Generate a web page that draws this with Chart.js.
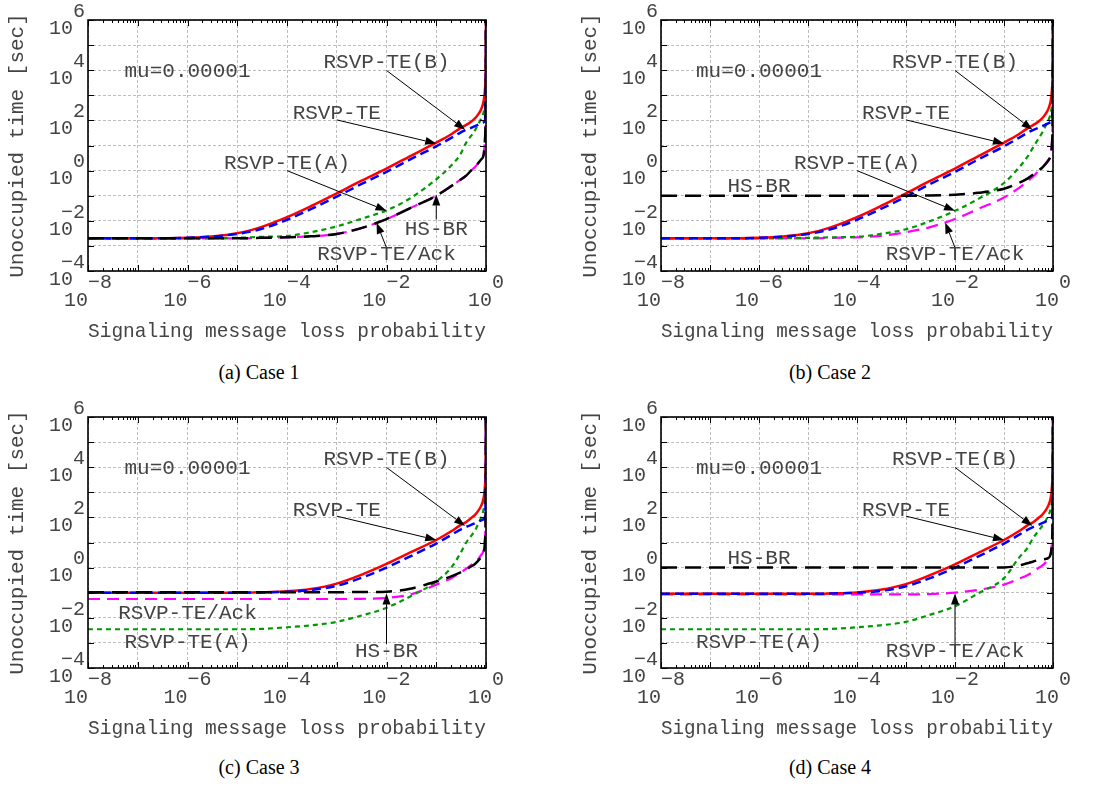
<!DOCTYPE html>
<html>
<head>
<meta charset="utf-8">
<script src="https://cdn.jsdelivr.net/npm/chart.js@4.4.1/dist/chart.umd.min.js"></script>
<style>
  html, body { margin: 0; padding: 0; background: #fff; }
  #page { position: relative; width: 1107px; height: 787px; overflow: hidden; }
  .panel { position: absolute; }
  .cap { position: absolute; font-family: "Liberation Serif", "Times New Roman", serif; font-size: 20px; color: #000; transform: translateX(-50%); white-space: nowrap; }
</style>
</head>
<body>
<div id="page">
  <div class="panel" style="left:0;top:0;width:560px;height:350px"><canvas id="caseA"></canvas></div>
  <div class="panel" style="left:573px;top:0;width:534px;height:350px"><canvas id="caseB"></canvas></div>
  <div class="panel" style="left:0;top:397px;width:560px;height:350px"><canvas id="caseC"></canvas></div>
  <div class="panel" style="left:573px;top:397px;width:534px;height:350px"><canvas id="caseD"></canvas></div>
  <div class="cap" style="left:259px;top:361px">(a) Case 1</div>
  <div class="cap" style="left:830px;top:361px">(b) Case 2</div>
  <div class="cap" style="left:259px;top:756px">(c) Case 3</div>
  <div class="cap" style="left:830px;top:756px">(d) Case 4</div>
</div>
<script>
// signaling message loss probability (x)
const P = [1e-8, 1e-7, 1e-6, 1e-5, 3e-5, 1e-4, 3e-4, 1e-3, 3e-3, 1e-2, 3e-2, 0.1, 0.2, 0.3, 0.4, 0.5, 0.6, 0.7, 0.8, 0.9, 0.95, 0.99, 0.999];
const xTickExps = [-8, -7, -6, -5, -4, -3, -2, -1, 0];
const yTickExps = [-4, -3, -2, -1, 0, 1, 2, 3, 4, 5, 6];

// unoccupied time [sec], case 1
const aRsvpB = [0.002, 0.002, 0.0021, 0.0032, 0.0056, 0.014, 0.038, 0.124, 0.38, 1.2, 3.8, 13, 28, 48, 66, 89, 120, 178, 280, 630, 1600, 32000, 3e6];
const aRsvp = [0.002, 0.002, 0.0021, 0.003, 0.0047, 0.011, 0.029, 0.092, 0.28, 0.89, 2.8, 9.3, 20, 32, 42, 50, 59, 68, 76, 85, 100, 3200, 3e6];
const aRsvpA = [0.002, 0.002, 0.002, 0.0021, 0.0023, 0.0025, 0.0035, 0.006, 0.0117, 0.026, 0.079, 0.45, 1.6, 4.2, 13, 24, 40, 70, 120, 224, 500, 10000, 3e6];
const aHsbr = [0.002, 0.002, 0.002, 0.002, 0.0021, 0.0022, 0.0024, 0.003, 0.005, 0.0117, 0.032, 0.1, 0.24, 0.42, 0.63, 1.0, 1.4, 2.0, 2.8, 4.5, 16, 1000, 3e6];
const aAck = [0.002, 0.002, 0.002, 0.002, 0.0021, 0.0022, 0.0024, 0.003, 0.005, 0.0117, 0.032, 0.1, 0.24, 0.42, 0.63, 1.0, 1.4, 2.0, 2.8, 4.5, 16, 1000, 3e6];

// case 2
const bRsvpB = [0.002, 0.002, 0.0021, 0.0032, 0.0056, 0.014, 0.038, 0.124, 0.38, 1.2, 3.8, 13, 28, 48, 66, 89, 120, 178, 280, 630, 1600, 32000, 3e6];
const bRsvp = [0.002, 0.002, 0.0021, 0.003, 0.0047, 0.011, 0.029, 0.092, 0.28, 0.89, 2.8, 9.3, 20, 32, 42, 50, 59, 68, 76, 85, 100, 3200, 3e6];
const bRsvpA = [0.002, 0.002, 0.002, 0.0021, 0.0022, 0.0023, 0.003, 0.0046, 0.0095, 0.025, 0.075, 0.32, 1.3, 3.5, 9, 18, 32, 58, 100, 200, 450, 10000, 3e6];
const bHsbr = [0.1, 0.1, 0.1, 0.1, 0.1, 0.1, 0.1, 0.1, 0.102, 0.11, 0.13, 0.19, 0.32, 0.48, 0.71, 1.0, 1.3, 1.8, 2.5, 4, 10, 1000, 3e6];
const bAck = [0.002, 0.002, 0.002, 0.002, 0.0021, 0.0022, 0.0025, 0.0035, 0.0055, 0.0117, 0.03, 0.085, 0.2, 0.38, 0.6, 0.95, 1.35, 1.9, 2.7, 4.3, 15, 1000, 3e6];

// case 3
const cRsvpB = [0.1, 0.1, 0.1, 0.1, 0.104, 0.113, 0.14, 0.23, 0.5, 1.4, 4.0, 12.6, 28, 48, 66, 93, 126, 186, 295, 630, 1600, 32000, 3e6];
const cRsvp = [0.1, 0.1, 0.1, 0.1, 0.103, 0.109, 0.127, 0.19, 0.38, 1.0, 2.8, 9.1, 20, 32, 42, 50, 59, 68, 76, 85, 100, 3200, 3e6];
const cRsvpA = [0.0035, 0.0035, 0.0035, 0.0035, 0.0036, 0.0042, 0.005, 0.0069, 0.012, 0.025, 0.071, 0.28, 1.0, 3.5, 10, 18, 30, 56, 100, 224, 500, 10000, 3e6];
const cHsbr = [0.105, 0.105, 0.105, 0.105, 0.105, 0.105, 0.105, 0.105, 0.106, 0.11, 0.145, 0.28, 0.45, 0.63, 0.85, 1.1, 1.4, 1.9, 2.6, 4, 10, 1000, 3e6];
const cAck = [0.056, 0.056, 0.056, 0.056, 0.056, 0.056, 0.056, 0.056, 0.057, 0.062, 0.085, 0.21, 0.38, 0.6, 0.9, 1.26, 1.66, 2.2, 3.2, 5, 12.6, 1000, 3e6];

// case 4
const dRsvpB = [0.09, 0.09, 0.09, 0.09, 0.094, 0.103, 0.13, 0.22, 0.49, 1.35, 3.9, 12.6, 28, 48, 66, 93, 126, 186, 295, 630, 1600, 32000, 3e6];
const dRsvp = [0.09, 0.09, 0.09, 0.09, 0.093, 0.099, 0.117, 0.18, 0.37, 0.99, 2.8, 9.1, 20, 32, 42, 50, 59, 68, 76, 85, 100, 3200, 3e6];
const dRsvpA = [0.0035, 0.0035, 0.0035, 0.0035, 0.0036, 0.0042, 0.005, 0.0069, 0.013, 0.029, 0.095, 0.38, 2.4, 6, 16, 28, 45, 70, 120, 224, 500, 10000, 3e6];
const dHsbr = [1.0, 1.0, 1.0, 1.0, 1.0, 1.0, 1.0, 1.0, 1.0, 1.0, 1.0, 1.02, 1.2, 1.5, 1.75, 2.0, 2.1, 2.2, 2.4, 3.5, 10, 1000, 3e6];
const dAck = [0.085, 0.085, 0.085, 0.085, 0.085, 0.085, 0.085, 0.085, 0.088, 0.1, 0.13, 0.21, 0.36, 0.5, 0.7, 0.95, 1.2, 1.6, 2.3, 4, 10, 1000, 3e6];

// text notes [text, log10 p, log10 T] and arrows [from lp, lt, to lp, lt]
const aNotes = [["mu=0.00001", -6.0, 3.96], ["RSVP-TE(B)", -2.0, 4.32], ["RSVP-TE", -3.0, 2.26], ["RSVP-TE(A)", -4.0, 0.29], ["HS-BR", -1.0, -2.33], ["RSVP-TE/Ack", -2.0, -3.35]];
const aArrows = [[-2.0, 3.99, -0.42, 1.63], [-3.0, 2.02, -1.0, 1.08], [-4.0, 0.0, -2.0, -1.6], [-1.0, -1.95, -1.0, -0.95], [-2.0, -3.07, -2.2, -2.08]];
const bNotes = [["mu=0.00001", -6.0, 3.96], ["RSVP-TE(B)", -2.0, 4.3], ["RSVP-TE", -3.0, 2.26], ["RSVP-TE(A)", -4.0, 0.29], ["HS-BR", -6.0, -0.62], ["RSVP-TE/Ack", -2.0, -3.35]];
const bArrows = [[-2.0, 3.99, -0.42, 1.63], [-3.0, 2.02, -1.0, 1.08], [-4.0, 0.0, -2.0, -1.6], [-2.0, -3.07, -2.2, -2.07]];
const cNotes = [["mu=0.00001", -6.0, 3.96], ["RSVP-TE(B)", -2.0, 4.31], ["RSVP-TE", -3.0, 2.29], ["RSVP-TE/Ack", -6.0, -1.82], ["RSVP-TE(A)", -6.0, -3.0], ["HS-BR", -2.0, -3.36]];
const cArrows = [[-2.0, 3.99, -0.42, 1.66], [-3.0, 2.05, -1.0, 1.1], [-2.0, -3.04, -2.0, -1.03]];
const dNotes = [["mu=0.00001", -6.0, 3.96], ["RSVP-TE(B)", -2.0, 4.31], ["RSVP-TE", -3.0, 2.29], ["HS-BR", -6.0, 0.37], ["RSVP-TE(A)", -6.0, -3.0], ["RSVP-TE/Ack", -2.0, -3.36]];
const dArrows = [[-2.0, 3.99, -0.42, 1.66], [-3.0, 2.05, -1.0, 1.1], [-2.0, -3.04, -2.0, -1.03]];

const MONO = '"Liberation Mono", "Courier New", monospace';
const TXT = "#444";

function expStr(e) {
    return e < 0 ? "\u2212" + (-e) : String(e);
}

function line(label, data, color, dash, width) {
    return {
        label,
        data: P.map((p, i) => ({ x: p, y: data[i] })),
        borderColor: color,
        borderDash: dash,
        borderWidth: width,
        pointRadius: 0,
        fill: false,
        cubicInterpolationMode: "monotone"
    };
}

function notesPlugin(notes, arrows) {
    return {
        id: "notes",
        afterDatasetsDraw(chart) {
            const { ctx, chartArea: a, scales: { x, y } } = chart;
            const px = (lp) => x.getPixelForValue(Math.pow(10, lp));
            const py = (lt) => y.getPixelForValue(Math.pow(10, lt));
            ctx.save();
            // tick marks inside the frame
            ctx.strokeStyle = "#000";
            ctx.lineWidth = 1;
            ctx.beginPath();
            for (let e = -8; e <= 0; e++) {
                for (let m = 1; m <= 9; m++) {
                    if (e === 0 && m > 1) break;
                    const xx = Math.round(px(e + Math.log10(m))) + 0.5;
                    const len = m === 1 ? 6 : 3;
                    ctx.moveTo(xx, a.bottom); ctx.lineTo(xx, a.bottom - len);
                    ctx.moveTo(xx, a.top); ctx.lineTo(xx, a.top + len);
                }
            }
            yTickExps.forEach((e) => {
                const yy = Math.round(py(e)) + 0.5;
                ctx.moveTo(a.left, yy); ctx.lineTo(a.left + 6, yy);
                ctx.moveTo(a.right, yy); ctx.lineTo(a.right - 6, yy);
            });
            ctx.stroke();
            ctx.lineWidth = 1.6;
            ctx.strokeRect(a.left, a.top, a.right - a.left, a.bottom - a.top);

            // arrows
            ctx.lineWidth = 1;
            ctx.fillStyle = "#000";
            arrows.forEach(([l1, t1, l2, t2]) => {
                const x1 = px(l1), y1 = py(t1), x2 = px(l2), y2 = py(t2);
                const ang = Math.atan2(y2 - y1, x2 - x1);
                const hl = 11, hw = 4;
                const bx = x2 - hl * Math.cos(ang), by = y2 - hl * Math.sin(ang);
                ctx.beginPath();
                ctx.moveTo(x1, y1); ctx.lineTo(bx, by);
                ctx.stroke();
                ctx.beginPath();
                ctx.moveTo(x2, y2);
                ctx.lineTo(bx + hw * Math.sin(ang), by - hw * Math.cos(ang));
                ctx.lineTo(bx - hw * Math.sin(ang), by + hw * Math.cos(ang));
                ctx.closePath();
                ctx.fill();
            });

            // labels
            ctx.font = "21px " + MONO;
            ctx.fillStyle = TXT;
            ctx.textAlign = "center";
            ctx.textBaseline = "middle";
            notes.forEach(([t, lp, lt]) => ctx.fillText(t, px(lp), py(lt)));
            ctx.restore();
        }
    };
}

function makePanel(id, rightPad, xHeight, sets, notes, arrows) {
    new Chart(document.getElementById(id), {
        type: "line",
        data: {
            datasets: [
                line("HS-BR", sets.hsbr, "#000000", [16, 8], 2.5),
                line("RSVP-TE", sets.rsvp, "#0000ff", [9, 5], 2.5),
                line("RSVP-TE(B)", sets.rsvpB, "#ff0000", [], 2.5),
                line("RSVP-TE(A)", sets.rsvpA, "#009a00", [5, 4], 2.2),
                line("RSVP-TE/Ack", sets.ack, "#ff00ff", [12, 7], 2.2)
            ]
        },
        options: {
            responsive: true,
            maintainAspectRatio: false,
            animation: false,
            layout: { padding: { left: 0, top: 17, right: rightPad, bottom: 0 } },
            plugins: { legend: { display: false }, tooltip: { enabled: false } },
            scales: {
                x: {
                    type: "logarithmic",
                    min: 1e-8,
                    max: 1,
                    afterBuildTicks: (s) => { s.ticks = xTickExps.map((e) => ({ value: Math.pow(10, e) })); },
                    afterFit: (s) => { s.height = xHeight; },
                    ticks: {
                        autoSkip: false,
                        maxRotation: 0,
                        padding: 3,
                        color: TXT,
                        font: { family: MONO, size: 20, lineHeight: 0.9 },
                        callback: (v) => {
                            const e = Math.round(Math.log10(v));
                            if (e % 2 !== 0) return "";
                            return e === 0 ? ["  0", "10 "] : ["  " + expStr(e), "10  "];
                        }
                    },
                    grid: { color: "#bdbdbd", lineWidth: 1, drawTicks: false },
                    border: { display: false, dash: [3, 2] },
                    title: {
                        display: true,
                        text: "Signaling message loss probability",
                        color: TXT,
                        font: { family: MONO, size: 21 },
                        padding: { top: 0, bottom: 6 }
                    }
                },
                y: {
                    type: "logarithmic",
                    min: 1e-4,
                    max: 1e6,
                    afterBuildTicks: (s) => { s.ticks = yTickExps.map((e) => ({ value: Math.pow(10, e) })); },
                    afterFit: (s) => { s.width = 88; },
                    ticks: {
                        autoSkip: false,
                        padding: 3,
                        color: TXT,
                        font: { family: MONO, size: 20, lineHeight: 0.85 },
                        callback: (v) => {
                            const e = Math.round(Math.log10(v));
                            if (e % 2 !== 0) return "";
                            return [expStr(e), "10 "];
                        }
                    },
                    grid: { color: "#bdbdbd", lineWidth: 1, drawTicks: false },
                    border: { display: false, dash: [3, 2] },
                    title: {
                        display: true,
                        text: "Unoccupied time [sec]",
                        color: TXT,
                        font: { family: MONO, size: 21 },
                        padding: { top: 5, bottom: 0 }
                    }
                }
            }
        },
        plugins: [notesPlugin(notes, arrows)]
    });
}

makePanel("caseA", 74, 79, { rsvpB: aRsvpB, rsvp: aRsvp, rsvpA: aRsvpA, hsbr: aHsbr, ack: aAck }, aNotes, aArrows);
makePanel("caseB", 54, 79, { rsvpB: bRsvpB, rsvp: bRsvp, rsvpA: bRsvpA, hsbr: bHsbr, ack: bAck }, bNotes, bArrows);
makePanel("caseC", 74, 79, { rsvpB: cRsvpB, rsvp: cRsvp, rsvpA: cRsvpA, hsbr: cHsbr, ack: cAck }, cNotes, cArrows);
makePanel("caseD", 54, 79, { rsvpB: dRsvpB, rsvp: dRsvp, rsvpA: dRsvpA, hsbr: dHsbr, ack: dAck }, dNotes, dArrows);
</script>
</body>
</html>
